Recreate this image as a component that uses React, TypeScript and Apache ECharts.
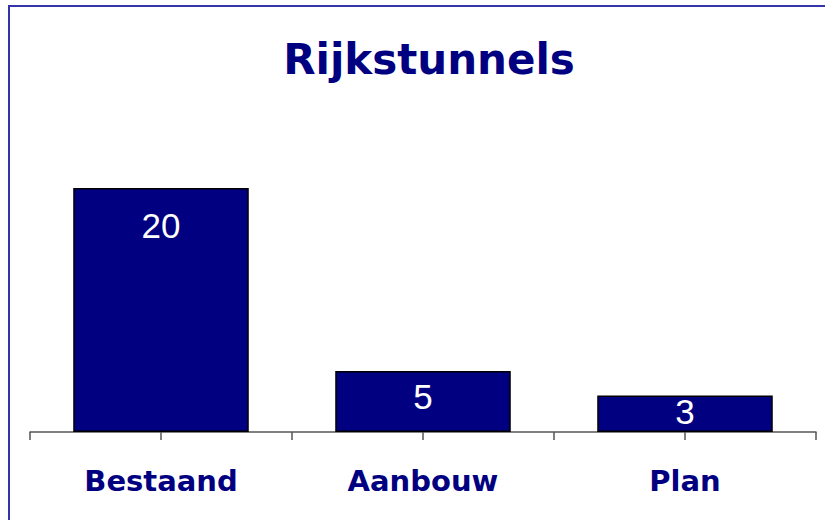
import React, { useEffect, useRef } from "react";
import * as echarts from "echarts";

const titleText = "Rijkstunnels";
const categories = ["Bestaand", "Aanbouw", "Plan"];
const values = [20, 5, 3];
// vertical nudge of each value label (styling only)
const labelNudge = [20, 8, -1];

const NAVY = "#000080";

export default function App() {
  const ref = useRef<HTMLDivElement>(null);
  useEffect(() => {
    document.body.style.margin = "0";
    const chart = echarts.init(ref.current!, null, { renderer: "svg" });
    const halfTicks = categories.flatMap((c) => [c + "-a", c + "-b"]);
    chart.setOption({
      animation: false,
      backgroundColor: "#ffffff",
      title: {
        text: titleText,
        left: 424,
        top: 33,
        textAlign: "center",
        textStyle: {
          fontFamily: "DejaVu Sans",
          fontWeight: "bold",
          fontSize: 42,
          color: NAVY,
        },
      },
      graphic: [
        {
          type: "rect",
          shape: { x: 9, y: 6, width: 900, height: 600 },
          style: { fill: "none", stroke: "#3333aa", lineWidth: 2 },
          silent: true,
        },
      ],
      grid: { left: 30, right: 9, top: 66, bottom: 88, containLabel: false },
      xAxis: [
        {
          type: "category",
          data: categories,
          boundaryGap: true,
          axisLine: { show: true, lineStyle: { color: "#555555", width: 1.5 } },
          axisTick: { show: false },
          axisLabel: {
            margin: 34,
            fontFamily: "DejaVu Sans",
            fontWeight: "bold",
            fontSize: 29,
            color: NAVY,
          },
        },
        {
          type: "category",
          data: halfTicks,
          position: "bottom",
          boundaryGap: true,
          axisLine: { show: false },
          axisTick: { show: true, length: 8, lineStyle: { color: "#555555", width: 1.5 } },
          axisLabel: { show: false },
        },
      ],
      yAxis: {
        type: "value",
        min: 0,
        max: 30,
        show: false,
        splitLine: { show: false },
      },
      series: [
        {
          type: "bar",
          xAxisIndex: 0,
          barWidth: "67%",
          data: values.map((v, i) => ({
            value: v,
            label: { offset: [0, labelNudge[i]] },
          })),
          itemStyle: { color: NAVY, borderColor: "#000000", borderWidth: 1.5 },
          label: {
            show: true,
            position: "insideTop",
            distance: 0,
            color: "#ffffff",
            fontFamily: "Liberation Sans",
            fontSize: 35,
          },
        },
      ],
    });
    return () => chart.dispose();
  }, []);
  return <div ref={ref} style={{ width: 825, height: 520 }} />;
}
